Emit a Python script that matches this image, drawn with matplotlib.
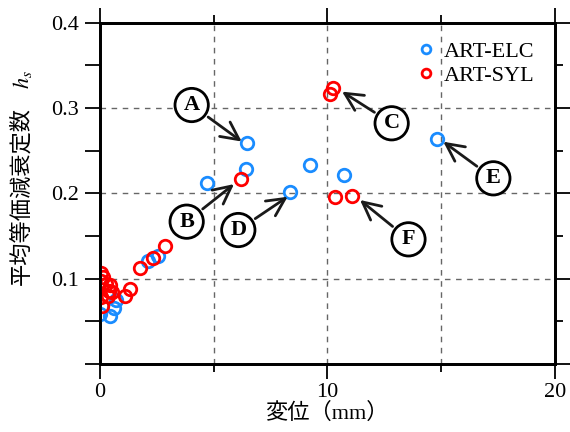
import matplotlib

matplotlib.use("Agg")
import matplotlib.pyplot as plt

plt.rcParams["font.family"] = ["Liberation Serif", "Noto Sans CJK JP"]
plt.rcParams["mathtext.fontset"] = "stix"

# displacement (mm) vs mean equivalent damping h_s
elc_x = [0.0, 0.45, 0.6, 0.7, 2.1, 2.55, 4.69, 6.40, 6.45, 8.35, 9.23, 10.74, 14.8]
elc_y = [0.059, 0.056, 0.066, 0.075, 0.121, 0.127, 0.2125, 0.229, 0.259, 0.202, 0.233, 0.222, 0.264]

syl_x = [0.05, 0.15, 0.05, 0.25, 0.45, 0.40, 0.55, 0.05, 0.36, 0.08,
         1.1, 1.3, 1.75, 2.35, 2.85, 6.2, 10.1, 10.25, 10.33, 11.09]
syl_y = [0.107, 0.102, 0.097, 0.094, 0.092, 0.086, 0.084, 0.078, 0.080, 0.068,
         0.080, 0.088, 0.112, 0.124, 0.138, 0.217, 0.317, 0.324, 0.196, 0.197]

# callouts: label, circle centre, arrow tip
callouts = [
    ("A", (4.03, 0.3035), (6.23, 0.2607)),
    ("B", (3.81, 0.1668), (5.89, 0.2108)),
    ("C", (12.82, 0.2821), (10.64, 0.3192)),
    ("D", (6.08, 0.1570), (8.25, 0.1960)),
    ("E", (17.29, 0.2176), (15.09, 0.2605)),
    ("F", (13.56, 0.1461), (11.43, 0.1922)),
]

BLUE = "#1a8cff"
RED = "#ff0000"

fig = plt.figure(figsize=(5.7, 4.32), dpi=100)
ax = fig.add_axes([0.1754, 0.1574, 0.7983, 0.7901])

for gx in (5, 10, 15):
    ax.axvline(gx, color="#666666", lw=1.0, ls=(0, (4, 4)), zorder=0)
for gy in (0.1, 0.2, 0.3):
    ax.axhline(gy, color="#666666", lw=1.0, ls=(0, (4, 4)), zorder=0)

ax.plot(elc_x, elc_y, "o", ms=9, mfc="none", mec=BLUE, mew=2.0, label="ART-ELC", zorder=3)
ax.plot(syl_x, syl_y, "o", ms=9, mfc="none", mec=RED, mew=2.0, label="ART-SYL", zorder=4)

for lab, c, tip in callouts:
    ax.annotate(lab, xy=tip, xytext=c, ha="center", va="center",
                fontsize=16, fontweight="bold",
                bbox=dict(boxstyle="circle,pad=0.3", fc="white", ec="black", lw=2.0),
                arrowprops=dict(arrowstyle="->,head_length=0.8,head_width=0.4",
                                color="#1a1a1a", lw=2.0, shrinkB=0),
                zorder=5)

ax.set_xlim(0, 20)
ax.set_ylim(0, 0.4)
ax.set_xticks([0, 10, 20])
ax.set_xticks([5, 15], minor=True)
# left side: every 0.05 tick the same length, labels on the 0.1 steps only
ax.set_yticks([0.0, 0.05, 0.1, 0.15, 0.2, 0.25, 0.3, 0.35, 0.4])
ax.set_xticklabels(["0", "10", "20"])
ax.set_yticklabels(["", "", "0.1", "", "0.2", "", "0.3", "", "0.4"])

for s in ax.spines.values():
    s.set_linewidth(2.0)

ax.tick_params(which="both", direction="out", width=1.3, labelsize=16,
               top=True, right=False)
ax.tick_params(axis="x", which="major", length=11, pad=3)
ax.tick_params(axis="x", which="minor", length=6)
ax.tick_params(axis="y", which="both", length=11, pad=4)

# right side: long ticks at 0.1 steps, short ones between
axr = ax.twinx()
axr.set_ylim(0, 0.4)
axr.set_yticks([0.0, 0.1, 0.2, 0.3, 0.4])
axr.set_yticks([0.05, 0.15, 0.25, 0.35], minor=True)
axr.tick_params(axis="y", which="both", direction="out", width=1.3, labelright=False)
axr.tick_params(axis="y", which="major", length=11)
axr.tick_params(axis="y", which="minor", length=6)
for s in axr.spines.values():
    s.set_linewidth(2.0)

ax.legend(loc="upper right", bbox_to_anchor=(0.985, 0.985), frameon=False,
          fontsize=16, markerscale=0.7, handlelength=0.8, handletextpad=0.4,
          labelspacing=0.15, borderaxespad=0.2)

fig.text(0.574, 1 - 413 / 432, "変位（mm）", ha="center", va="center", fontsize=16)
fig.text(22 / 570, 1 - 196 / 432, "平均等価減衰定数", rotation=90,
         ha="center", va="center", fontsize=16)
fig.text(22 / 570, 1 - 80 / 432, r"$h_s$", rotation=90,
         ha="center", va="center", fontsize=16)

fig.savefig("out.png", dpi=100)
